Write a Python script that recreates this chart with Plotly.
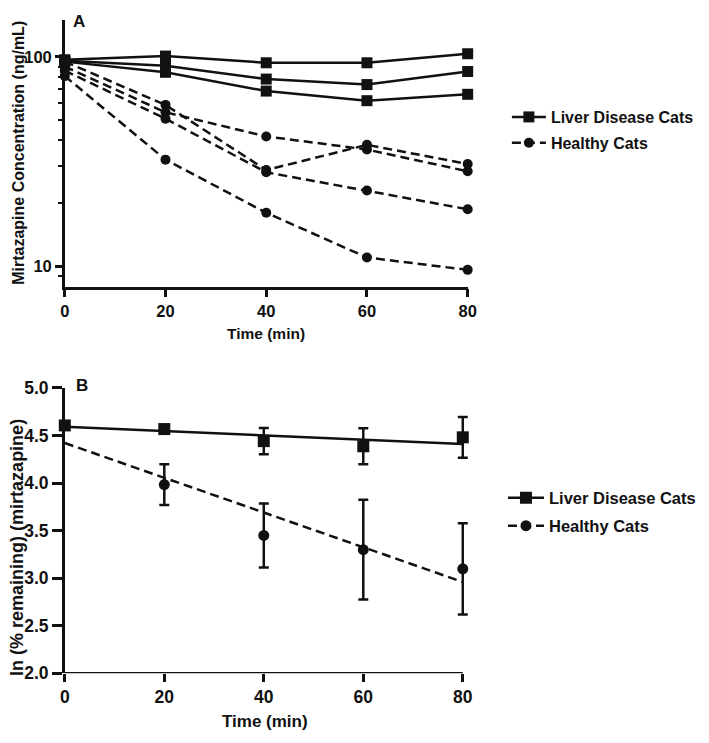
import plotly.graph_objects as go

# ---------------- data ----------------
time_min = [0, 20, 40, 60, 80]
time_ticks = [0, 20, 40, 60, 80]

# Panel A: individual cats, mirtazapine concentration (ng/mL)
liver_cat_1 = [97, 101, 93.8, 93.8, 103.6]
liver_cat_2 = [96, 90.8, 78.4, 73.8, 85.2]
liver_cat_3 = [95, 84.5, 68.7, 61.8, 66.3]
healthy_cat_1 = [95, 59.0, 28.8, 38.0, 30.8]
healthy_cat_2 = [90, 54.4, 41.7, 36.1, 28.4]
healthy_cat_3 = [86, 50.7, 28.1, 23.0, 18.7]
healthy_cat_4 = [81, 32.3, 18.0, 11.0, 9.6]
conc_major_ticks = [10, 100]
conc_minor_ticks = [9, 20, 30, 40, 50, 60, 70, 80, 90]

# Panel B: ln(% remaining), mean and SD
liver_ln_mean = [4.605, 4.567, 4.44, 4.386, 4.48]
liver_ln_sd = [0.0, 0.03, 0.137, 0.19, 0.215]
healthy_ln_mean = [4.605, 3.984, 3.449, 3.30, 3.098]
healthy_ln_sd = [0.0, 0.214, 0.336, 0.525, 0.48]
ln_ticks = [2.0, 2.5, 3.0, 3.5, 4.0, 4.5, 5.0]
ln_tick_text = ["2.0", "2.5", "3.0", "3.5", "4.0", "4.5", "5.0"]

# regression lines (end points)
fit_time = [0, 80]
liver_fit = [4.59, 4.41]
healthy_fit = [4.42, 2.96]

# ---------------- styling ----------------
W, H = 709, 743
FONT = "Arial, 'Liberation Sans', sans-serif"
BLACK = "#111111"
DASH = "9px,5px"
X2_MAX = 81.3  # a little room so the caps of the last error bar are not clipped


def px_x(p):
    """page pixel (from left) -> paper fraction"""
    return p / W


def px_y(p):
    """page pixel (from top) -> paper fraction"""
    return (H - p) / H


fig = go.Figure()

# Panel A traces
for i, ys in enumerate([healthy_cat_1, healthy_cat_2, healthy_cat_3, healthy_cat_4]):
    fig.add_trace(go.Scatter(
        x=time_min, y=ys, mode="lines+markers", xaxis="x", yaxis="y",
        name="Healthy Cats", legend="legend", legendgroup="healthy", legendrank=2,
        showlegend=(i == 0), cliponaxis=False,
        line=dict(color=BLACK, width=2.5, dash=DASH),
        marker=dict(symbol="circle", size=10, color=BLACK),
    ))
for i, ys in enumerate([liver_cat_1, liver_cat_2, liver_cat_3]):
    fig.add_trace(go.Scatter(
        x=time_min, y=ys, mode="lines+markers", xaxis="x", yaxis="y",
        name="Liver Disease Cats", legend="legend", legendgroup="liver", legendrank=1,
        showlegend=(i == 0), cliponaxis=False,
        line=dict(color=BLACK, width=2.5),
        marker=dict(symbol="square", size=11, color=BLACK),
    ))

# Panel B traces
fig.add_trace(go.Scatter(
    x=fit_time, y=healthy_fit, mode="lines", xaxis="x2", yaxis="y2",
    showlegend=False, cliponaxis=False,
    line=dict(color=BLACK, width=2.5, dash=DASH),
))
fig.add_trace(go.Scatter(
    x=fit_time, y=liver_fit, mode="lines", xaxis="x2", yaxis="y2",
    showlegend=False, cliponaxis=False,
    line=dict(color=BLACK, width=2.5),
))
fig.add_trace(go.Scatter(
    x=time_min, y=healthy_ln_mean, mode="markers", xaxis="x2", yaxis="y2",
    showlegend=False, cliponaxis=False,
    marker=dict(symbol="circle", size=11, color=BLACK),
    error_y=dict(type="data", array=healthy_ln_sd, visible=True,
                 color=BLACK, thickness=2.5, width=5),
))
fig.add_trace(go.Scatter(
    x=time_min, y=liver_ln_mean, mode="markers", xaxis="x2", yaxis="y2",
    showlegend=False, cliponaxis=False,
    marker=dict(symbol="square", size=12, color=BLACK),
    error_y=dict(type="data", array=liver_ln_sd, visible=True,
                 color=BLACK, thickness=2.5, width=5),
))
# legend entries for panel B (line + marker style)
fig.add_trace(go.Scatter(
    x=[None], y=[None], mode="lines+markers", xaxis="x2", yaxis="y2",
    name="Liver Disease Cats", legend="legend2", legendgroup="liver2", legendrank=1,
    line=dict(color=BLACK, width=2.5),
    marker=dict(symbol="square", size=12, color=BLACK),
))
fig.add_trace(go.Scatter(
    x=[None], y=[None], mode="lines+markers", xaxis="x2", yaxis="y2",
    name="Healthy Cats", legend="legend2", legendgroup="healthy2", legendrank=2,
    line=dict(color=BLACK, width=2.5, dash=DASH),
    marker=dict(symbol="circle", size=11, color=BLACK),
))

axis_common = dict(
    linecolor=BLACK, linewidth=2.5, showgrid=False, zeroline=False,
    ticks="outside", tickcolor=BLACK, tickwidth=2.5, mirror=False,
)

x2_left, x2_right80 = 61, 467
x2_right = x2_left + (x2_right80 - x2_left) * X2_MAX / 80

fig.update_layout(
    width=W, height=H,
    margin=dict(l=0, r=0, t=0, b=0),
    paper_bgcolor="white", plot_bgcolor="white",
    hovermode=False,
    font=dict(family=FONT, color=BLACK, weight="bold"),
    xaxis=dict(
        **axis_common, showline=True, domain=[px_x(61), px_x(472)], range=[0, 80],
        anchor="y", tickmode="array", tickvals=time_ticks, ticklen=8,
        tickfont=dict(size=16.5, family=FONT, weight="bold", color=BLACK),
    ),
    yaxis=dict(
        **axis_common, showline=True, type="log", domain=[px_y(284.3), px_y(10)],
        range=[0.902, 2.178], anchor="x",
        tickmode="array", tickvals=conc_major_ticks,
        ticktext=[str(v) for v in conc_major_ticks], ticklen=7,
        tickfont=dict(size=16.5, family=FONT, weight="bold", color=BLACK),
        minor=dict(tickmode="array", tickvals=conc_minor_ticks, ticks="outside",
                   ticklen=4, tickwidth=2, tickcolor=BLACK),
    ),
    xaxis2=dict(
        **axis_common, showline=False, domain=[px_x(x2_left), px_x(x2_right)],
        range=[0, X2_MAX], anchor="y2",
        tickmode="array", tickvals=time_ticks, ticklen=8,
        tickfont=dict(size=17.5, family=FONT, weight="bold", color=BLACK),
    ),
    yaxis2=dict(
        **axis_common, showline=True, domain=[px_y(681.7), px_y(388.3)], range=[2, 5],
        anchor="x2", tickmode="array", tickvals=ln_ticks, ticktext=ln_tick_text,
        ticklen=10,
        tickfont=dict(size=17.5, family=FONT, weight="bold", color=BLACK),
    ),
    shapes=[
        # x axis line of panel B, ending at the last tick
        dict(type="line", xref="x2", yref="y2", x0=time_ticks[0], x1=time_ticks[-1],
             y0=ln_ticks[0], y1=ln_ticks[0], line=dict(color=BLACK, width=2.5),
             layer="above"),
    ],
    legend=dict(
        x=px_x(512), y=px_y(92.5), xanchor="left", yanchor="top",
        bgcolor="rgba(0,0,0,0)", itemwidth=34, traceorder="grouped", tracegroupgap=2,
        font=dict(size=16, family=FONT, weight="bold", color=BLACK),
    ),
    legend2=dict(
        x=px_x(508), y=px_y(483.5), xanchor="left", yanchor="top",
        bgcolor="rgba(0,0,0,0)", itemwidth=36, traceorder="grouped", tracegroupgap=3.5,
        font=dict(size=16.5, family=FONT, weight="bold", color=BLACK),
    ),
    annotations=[
        dict(text="A", x=px_x(76), y=px_y(12), xref="paper", yref="paper",
             showarrow=False, xanchor="center", yanchor="middle",
             font=dict(size=17, family=FONT, weight="bold", color=BLACK)),
        dict(text="B", x=px_x(79), y=px_y(386), xref="paper", yref="paper",
             showarrow=False, xanchor="center", yanchor="middle",
             font=dict(size=17, family=FONT, weight="bold", color=BLACK)),
        dict(text="Mirtazapine Concentration (ng/mL)", x=px_x(13), y=px_y(147),
             xref="paper", yref="paper", showarrow=False, textangle=-90,
             xanchor="center", yanchor="middle",
             font=dict(size=16, family=FONT, weight="bold", color=BLACK)),
        dict(text="Time (min)", x=px_x(266), y=px_y(332), xref="paper", yref="paper",
             showarrow=False, xanchor="center", yanchor="middle",
             font=dict(size=15.5, family=FONT, weight="bold", color=BLACK)),
        dict(text="ln (% remaining) (mirtazapine)", x=px_x(12), y=px_y(552),
             xref="paper", yref="paper", showarrow=False, textangle=-90,
             xanchor="center", yanchor="middle",
             font=dict(size=18, family=FONT, weight="bold", color=BLACK)),
        dict(text="Time (min)", x=px_x(265), y=px_y(731), xref="paper", yref="paper",
             showarrow=False, xanchor="center", yanchor="middle",
             font=dict(size=17, family=FONT, weight="bold", color=BLACK)),
    ],
)

fig.write_html(
    "out.html",
    config={"displayModeBar": False},
    post_script="document.body.style.margin='0';document.body.style.overflow='hidden';",
)
